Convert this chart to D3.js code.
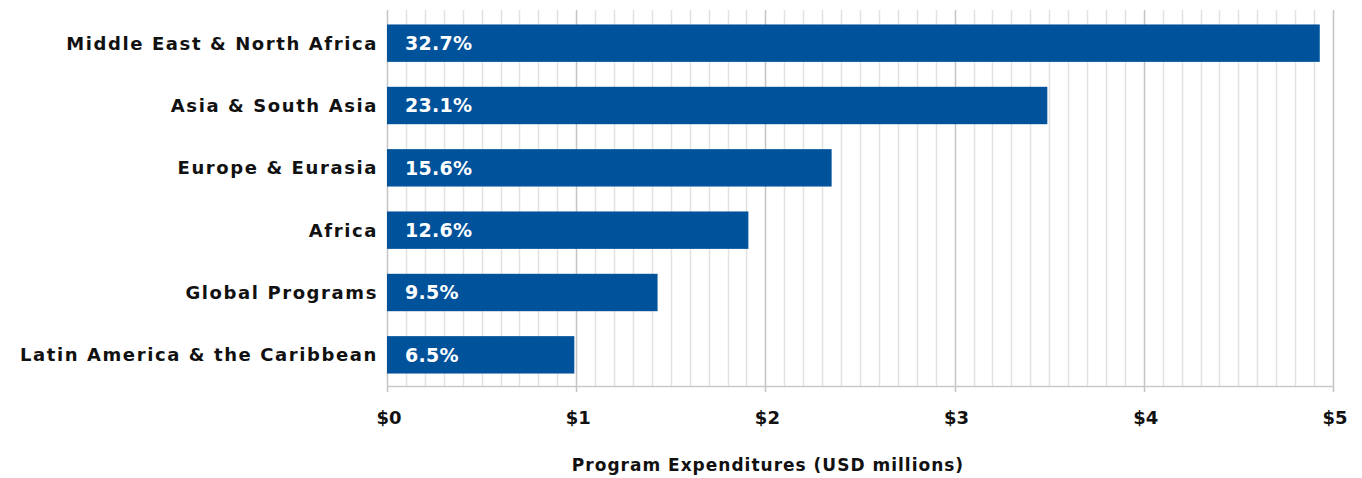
<!DOCTYPE html>
<html><head><meta charset="utf-8">
<script src="https://cdn.jsdelivr.net/npm/d3@7"></script>
<style>body{margin:0;background:#fff}svg{display:block}</style>
</head><body>
<svg id="c" width="1362" height="478"></svg>
<script>
const categories = ["Middle East & North Africa","Asia & South Asia","Europe & Eurasia","Africa","Global Programs","Latin America & the Caribbean"];
const values = [4.93, 3.49, 2.35, 1.91, 1.43, 0.99];
const shares = ["32.7%","23.1%","15.6%","12.6%","9.5%","6.5%"];
const tickValues = [0,1,2,3,4,5];
const tickLabels = ["$0","$1","$2","$3","$4","$5"];
const axisTitle = "Program Expenditures (USD millions)";

(function(){
const svg = d3.select("#c");
const mLeft = 387, mRight = 1333, mTop = 12, mBottom = 386;
const x = d3.scaleLinear().domain([0,5]).range([mLeft,mRight]);
const y = d3.scaleBand().domain(categories).range([mTop,mBottom]).paddingInner(0.4).paddingOuter(0.2);
const font = "'DejaVu Sans', sans-serif";

// minor gridlines
const minor = d3.range(1,50).map(d=>d/10).filter(d=>Math.abs(d-Math.round(d))>1e-6);
svg.append("g").selectAll("line").data(minor).join("line")
  .attr("x1",d=>Math.round(x(d))+0.5).attr("x2",d=>Math.round(x(d))+0.5)
  .attr("y1",10).attr("y2",mBottom).attr("stroke","#e2e2e2").attr("stroke-width",1.5);
// major gridlines
svg.append("g").selectAll("line").data(tickValues).join("line")
  .attr("x1",d=>Math.round(x(d))+0.5).attr("x2",d=>Math.round(x(d))+0.5)
  .attr("y1",10).attr("y2",mBottom+6).attr("stroke","#c4c4c4").attr("stroke-width",1.5);
// axis line
svg.append("line").attr("x1",mLeft).attr("x2",mRight+1).attr("y1",mBottom+0.5).attr("y2",mBottom+0.5)
  .attr("stroke","#c9c9c9").attr("stroke-width",1.5);

// bars
svg.append("g").selectAll("rect").data(categories).join("rect")
  .attr("x",x(0)).attr("y",d=>y(d)).attr("width",(d,i)=>x(values[i])-x(0)).attr("height",y.bandwidth())
  .attr("fill","#00529b");

// value labels
svg.append("g").selectAll("text").data(categories).join("text")
  .attr("x",x(0)+18).attr("y",d=>y(d)+y.bandwidth()/2).attr("dy","0.36em")
  .attr("fill","#fff").attr("font-family",font).attr("font-weight",700).attr("font-size",19)
  .attr("letter-spacing",0.3)
  .text((d,i)=>shares[i]);

// category labels
svg.append("g").selectAll("text").data(categories).join("text")
  .attr("x",mLeft-9).attr("y",d=>y(d)+y.bandwidth()/2).attr("dy","0.36em")
  .attr("text-anchor","end").attr("fill","#111").attr("font-family",font).attr("font-weight",700).attr("font-size",18)
  .attr("letter-spacing",1.6)
  .text(d=>d);

// tick labels
svg.append("g").selectAll("text").data(tickValues).join("text")
  .attr("x",d=>x(d)+2).attr("y",424).attr("text-anchor","middle")
  .attr("fill","#111").attr("font-family",font).attr("font-weight",700).attr("font-size",18)
  .text((d,i)=>tickLabels[i]);

// axis title
svg.append("text").attr("x",768).attr("y",471).attr("text-anchor","middle")
  .attr("fill","#111").attr("font-family",font).attr("font-weight",700).attr("font-size",17)
  .attr("letter-spacing",1.0)
  .text(axisTitle);
})();
</script>
</body></html>
